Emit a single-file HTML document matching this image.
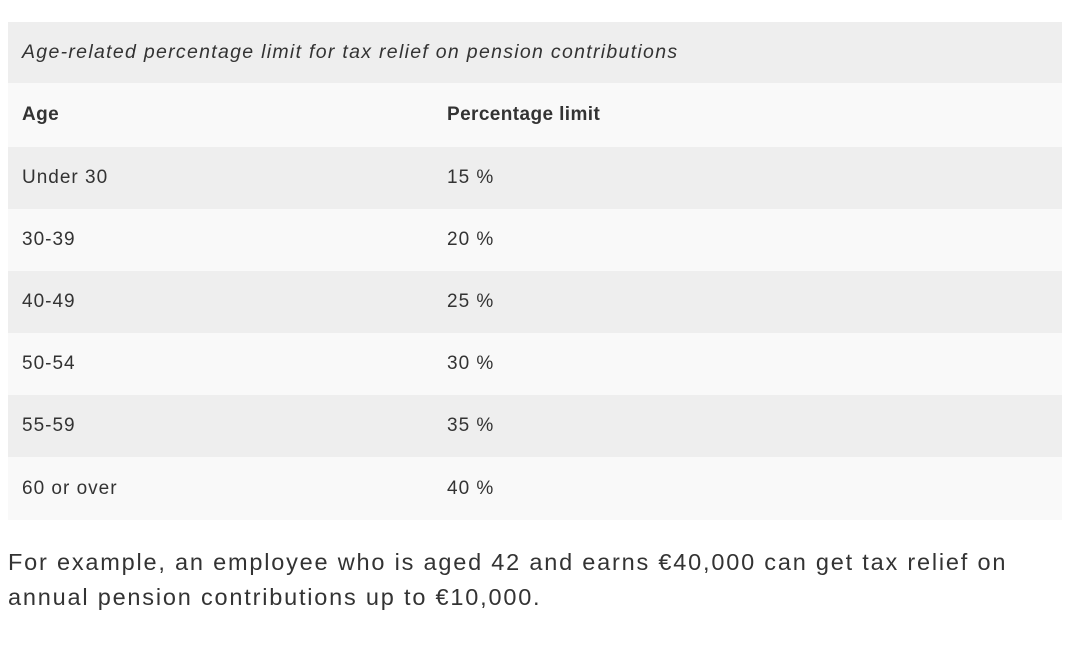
<!DOCTYPE html>
<html><head><meta charset="utf-8"><style>
body{margin:0;width:1080px;height:648px;background:#fff;font-family:"Liberation Sans",sans-serif;color:#333;position:relative;overflow:hidden}
.tbl{position:absolute;left:8px;top:22px;width:1054px}
.row{height:62px;display:flex;align-items:center;font-size:19px;letter-spacing:1px}
.c1{position:absolute;left:14px}
.c2{position:absolute;left:439px}
.row{position:relative}
.g{background:#eeeeee}.w{background:#f9f9f9}
.cap{height:61px;background:#eeeeee;font-style:italic;font-size:19.5px;letter-spacing:1.3px;display:flex;align-items:center;padding-left:14px}
.hd{font-weight:bold;height:64px;letter-spacing:0.4px}
p{position:absolute;left:8px;top:545px;margin:0;font-size:23.5px;line-height:35px;width:1070px;letter-spacing:1.8px;white-space:nowrap}
</style></head><body>
<div class="tbl">
<div class="cap">Age-related percentage limit for tax relief on pension contributions</div>
<div class="row w hd"><span class="c1">Age</span><span class="c2">Percentage limit</span></div>
<div class="row g"><span class="c1">Under 30</span><span class="c2">15 %</span></div>
<div class="row w"><span class="c1">30-39</span><span class="c2">20 %</span></div>
<div class="row g"><span class="c1">40-49</span><span class="c2">25 %</span></div>
<div class="row w"><span class="c1">50-54</span><span class="c2">30 %</span></div>
<div class="row g"><span class="c1">55-59</span><span class="c2">35 %</span></div>
<div class="row w" style="height:63px"><span class="c1">60 or over</span><span class="c2">40 %</span></div>
</div>
<p>For example, an employee who is aged 42 and earns €40,000 can get tax relief on<br>annual pension contributions up to €10,000.</p>
</body></html>
